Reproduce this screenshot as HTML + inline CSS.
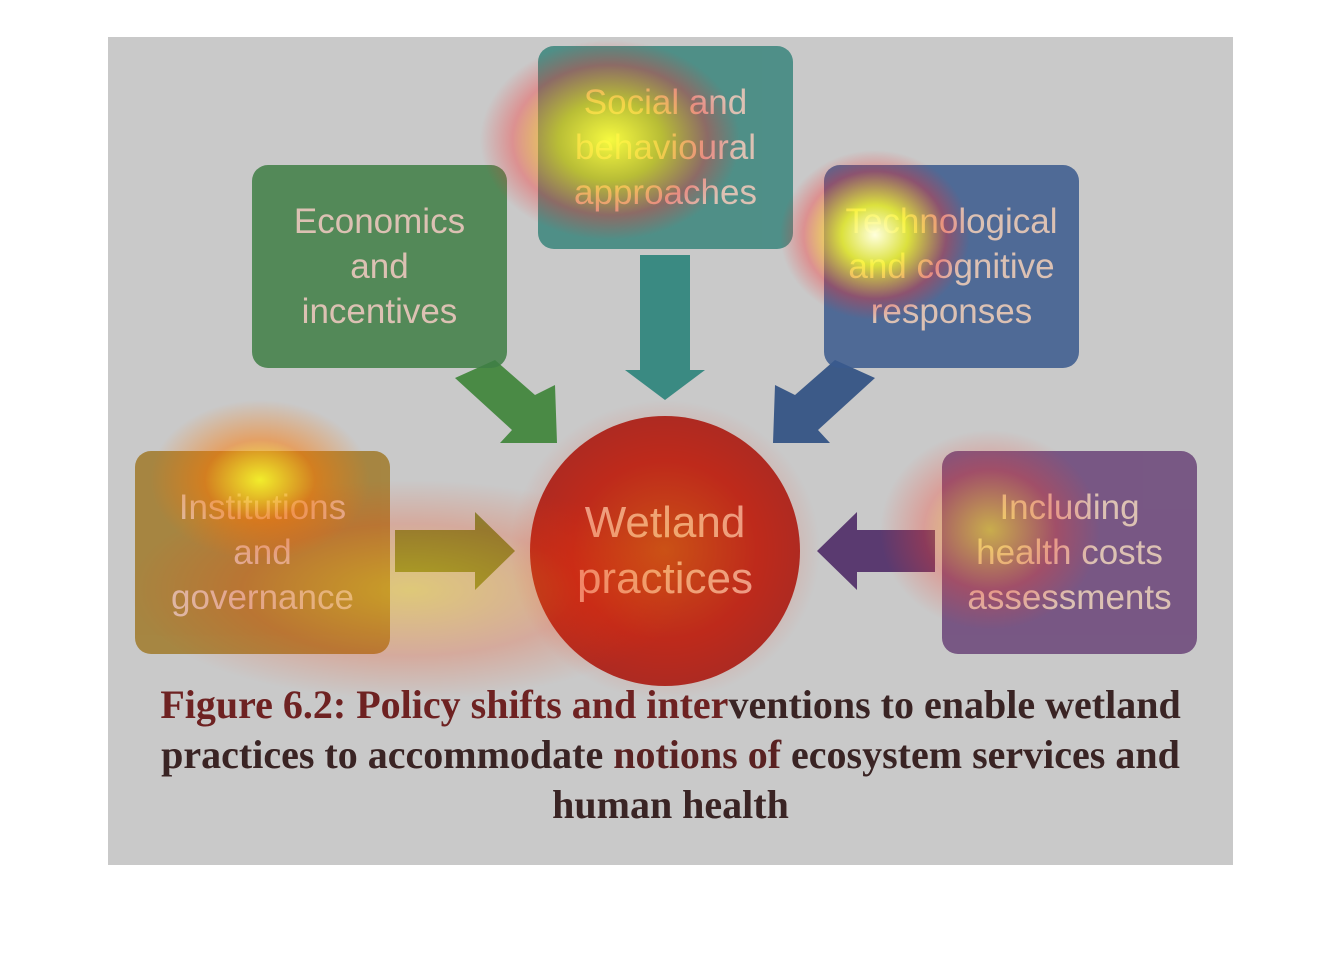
<!DOCTYPE html>
<html><head><meta charset="utf-8"><style>
body{margin:0;width:1342px;height:960px;background:#fff;position:relative;overflow:hidden;font-family:"Liberation Sans",sans-serif}
.bg{position:absolute;left:108px;top:37px;width:1125px;height:828px;background:#c9c9c9}
.box{position:absolute;width:255px;height:203px;border-radius:16px;color:#e0c0b0;font-size:35px;line-height:45px;text-align:center;display:flex;align-items:center;justify-content:center;opacity:.85}
.cap{position:absolute;left:108px;width:1125px;top:680px;text-align:center;font-family:"Liberation Serif",serif;font-weight:bold;font-size:40px;line-height:50px;color:#3a2424;white-space:nowrap}
.heat{position:absolute;border-radius:50%;pointer-events:none}
</style></head><body>
<div class="bg"></div>
<svg style="position:absolute;left:0;top:0" width="1342" height="960">
<polygon points="640,255 690,255 690,370 705,370 665,400 625,370 640,370" fill="#3a8a82"/>
<polygon points="455,378 495,360 535,395 555,385 557,443 500,443 512,430" fill="#4a8a45"/>
<polygon points="875,378 835,360 795,395 775,385 773,443 830,443 818,430" fill="#3c5a88"/>
<polygon points="395,530 475,530 475,512 515,551 475,590 475,572 395,572" fill="#7a8a3a"/>
<polygon points="935,530 857,530 857,512 817,551 857,590 857,572 935,572" fill="#5a3a70"/>
<circle cx="665" cy="551" r="135" fill="#a82a24"/>
</svg>
<div class="box" style="left:538px;top:46px;background:#3a857c">Social and<br>behavioural<br>approaches</div>
<div class="box" style="left:252px;top:165px;background:#3f7f45">Economics<br>and<br>incentives</div>
<div class="box" style="left:824px;top:165px;background:#3a5a8e">Technological<br>and cognitive<br>responses</div>
<div class="box" style="left:135px;top:451px;background:#a07a2a">Institutions<br>and<br>governance</div>
<div class="box" style="left:942px;top:451px;background:#6a4478">Including<br>health costs<br>assessments</div>
<div style="position:absolute;left:530px;top:495px;width:270px;text-align:center;color:#e8c0b0;font-size:44px;line-height:56px">Wetland<br>practices</div>
<div class="heat" style="left:480px;top:40px;width:260px;height:200px;background:radial-gradient(closest-side,rgba(255,255,60,.95),rgba(255,220,0,.6) 40%,rgba(255,40,40,.35) 75%,rgba(255,0,0,0))"></div>
<div class="heat" style="left:780px;top:150px;width:190px;height:170px;background:radial-gradient(closest-side,rgba(255,255,220,1),rgba(255,255,40,.8) 35%,rgba(255,40,40,.35) 75%,rgba(255,0,0,0))"></div>
<div class="heat" style="left:150px;top:400px;width:220px;height:160px;background:radial-gradient(closest-side,rgba(255,255,40,.85),rgba(255,120,0,.5) 50%,rgba(255,0,0,0))"></div>
<div class="heat" style="left:130px;top:480px;width:560px;height:220px;background:radial-gradient(closest-side,rgba(255,200,0,.4),rgba(255,60,0,.22) 60%,rgba(255,0,0,0))"></div>
<div class="heat" style="left:510px;top:400px;width:310px;height:300px;background:radial-gradient(closest-side,rgba(255,140,0,.4),rgba(255,40,0,.25) 60%,rgba(255,0,0,0))"></div>
<div class="heat" style="left:880px;top:430px;width:220px;height:200px;background:radial-gradient(closest-side,rgba(255,230,40,.6),rgba(255,60,40,.3) 60%,rgba(255,0,0,0))"></div>
<div class="cap"><span style="color:#6e2222">Figure 6.2: Policy shifts and inter</span>ventions to enable wetland<br>practices to accommodate <span style="color:#5a2222">notions of</span> ecosystem services and<br>human health</div>
</body></html>
